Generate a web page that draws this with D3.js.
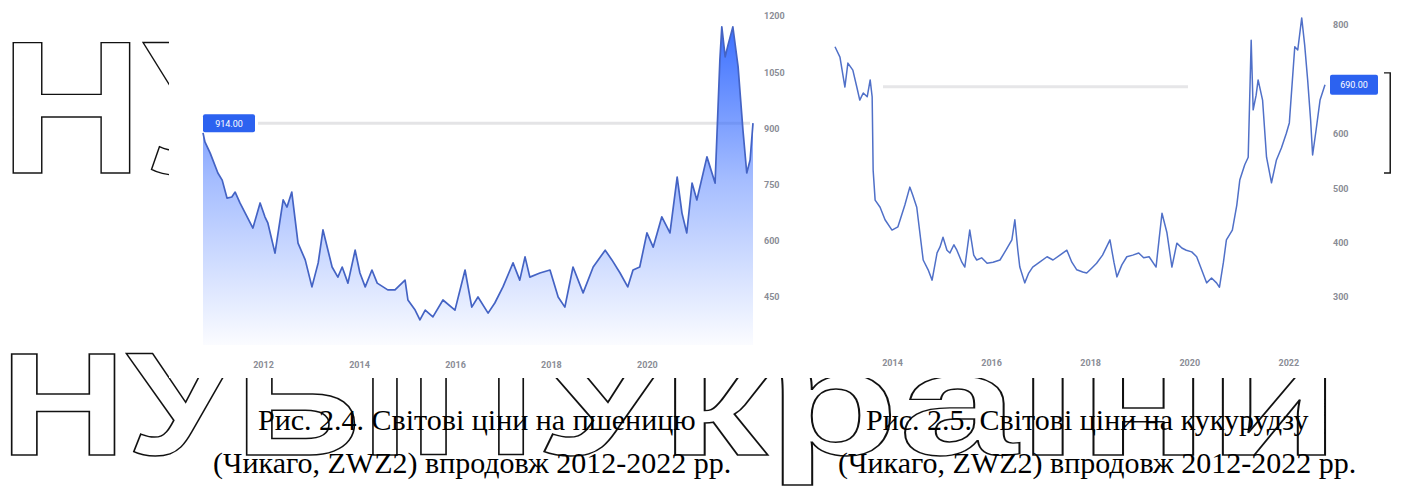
<!DOCTYPE html>
<html><head><meta charset="utf-8">
<script src="https://cdn.jsdelivr.net/npm/d3@7"></script>
<style>html,body{margin:0;padding:0;background:#fff;}svg{display:block;}</style>
</head><body>
<svg id="c" width="1405" height="491"></svg>
<script>
// ---- data ----
const wheatYears = [2010.75,2010.79,2010.90,2011.06,2011.15,2011.25,2011.35,2011.42,2011.52,2011.63,2011.79,2011.94,2012.04,2012.10,2012.25,2012.42,2012.50,2012.60,2012.73,2012.88,2013.02,2013.15,2013.25,2013.44,2013.56,2013.65,2013.77,2013.92,2014.02,2014.13,2014.27,2014.38,2014.60,2014.75,2014.96,2015.02,2015.17,2015.27,2015.38,2015.54,2015.75,2016.00,2016.21,2016.35,2016.48,2016.69,2016.83,2017.00,2017.21,2017.35,2017.46,2017.56,2017.77,2017.98,2018.15,2018.29,2018.46,2018.67,2018.88,2019.13,2019.27,2019.44,2019.60,2019.71,2019.85,2020.00,2020.13,2020.31,2020.48,2020.63,2020.73,2020.83,2020.94,2021.04,2021.25,2021.42,2021.52,2021.56,2021.63,2021.69,2021.79,2021.90,2022.00,2022.08,2022.15,2022.21];
const wheatPrices = [888,864,834,781,762,714,717,730,701,674,634,701,664,648,567,709,690,730,594,549,477,541,629,530,503,530,487,575,514,477,522,487,469,469,495,442,415,389,415,397,442,415,522,423,450,407,434,477,541,495,557,503,514,522,450,423,530,461,530,575,549,514,477,522,530,621,583,664,621,770,674,621,754,709,824,754,1083,1171,1091,1123,1171,1064,896,781,816,914];
const cornYears = [2012.85,2012.95,2013.05,2013.11,2013.21,2013.29,2013.35,2013.42,2013.50,2013.56,2013.60,2013.62,2013.66,2013.76,2013.86,2014.00,2014.12,2014.26,2014.36,2014.42,2014.50,2014.63,2014.73,2014.81,2014.91,2014.97,2015.03,2015.11,2015.17,2015.25,2015.31,2015.41,2015.47,2015.57,2015.65,2015.71,2015.81,2015.92,2016.04,2016.18,2016.30,2016.42,2016.48,2016.54,2016.58,2016.68,2016.76,2016.84,2016.98,2017.13,2017.25,2017.39,2017.53,2017.63,2017.73,2017.85,2017.93,2018.03,2018.13,2018.25,2018.40,2018.48,2018.54,2018.64,2018.74,2018.86,2018.98,2019.08,2019.19,2019.33,2019.39,2019.45,2019.55,2019.65,2019.75,2019.85,2019.94,2020.05,2020.15,2020.25,2020.35,2020.45,2020.55,2020.61,2020.69,2020.75,2020.87,2020.96,2021.02,2021.12,2021.19,2021.25,2021.29,2021.35,2021.39,2021.48,2021.56,2021.66,2021.76,2021.86,2021.96,2022.02,2022.13,2022.19,2022.27,2022.33,2022.39,2022.45,2022.49,2022.56,2022.64,2022.74];
const cornPrices = [760,741,686,730,717,686,662,675,668,699,668,533,478,465,442,423,429,469,502,487,465,368,350,331,381,392,410,386,381,396,386,364,355,423,377,368,372,362,364,368,386,405,442,386,355,326,344,355,364,374,368,377,386,364,350,346,344,353,362,377,405,364,337,359,374,377,381,372,374,355,405,454,418,355,399,390,386,383,374,350,326,335,326,318,364,405,423,469,515,543,557,772,644,671,699,662,557,510,552,574,601,620,760,754,813,763,699,625,561,607,662,690];
const wheatYTicks = [450,600,750,900,1050,1200];
const cornYTicks = [300,400,500,600,700,800];
const wheatXTicks = [2012,2014,2016,2018,2020];
const cornXTicks = [2014,2016,2018,2020,2022];
const watermarkWords = ["НУБіП","України"];
const captionsLeft = ["Рис. 2.4. Світові ціни на пшеницю","(Чикаго, ZWZ2) впродовж 2012-2022 рр."];
const captionsRight = ["Рис. 2.5. Світові ціни на кукурудзу","(Чикаго, ZWZ2) впродовж 2012-2022 рр."];

const svg = d3.select("#c");
svg.append("rect").attr("width",1405).attr("height",491).attr("fill","#fff");

// ---- watermark (outlined big letters) ----
const wm = svg.append("g").style("font-family","'Liberation Sans', Arial, sans-serif").style("font-weight","bold")
  .attr("fill","none").attr("stroke","#111").attr("stroke-width",1.4);
// top row
wm.append("text").attr("x",0).attr("y",173).style("font-size","190px")
  .attr("textLength",1404).attr("lengthAdjust","spacingAndGlyphs").text(watermarkWords.join(" "));
// bottom row
const row2 = wm.append("text").attr("y",455).style("font-size","147px");
row2.append("tspan").attr("x",0).attr("textLength",535).attr("lengthAdjust","spacingAndGlyphs").text(watermarkWords[0]);
row2.append("tspan").attr("x",535).attr("textLength",805).attr("lengthAdjust","spacingAndGlyphs").text(watermarkWords[1]);

// chart images (opaque)
svg.append("rect").attr("x",169).attr("y",0).attr("width",1215).attr("height",378).attr("fill","#fff");

const lab = {family:"Roboto, 'Liberation Sans', sans-serif", size:"9px", color:"#8a8d96"};
const data = (xs, ys) => xs.map((x,i)=>({x, y: ys[i]}));

// ---- left chart: wheat ----
const wd = data(wheatYears, wheatPrices);
const xL = d3.scaleLinear().domain(d3.extent(wheatYears)).range([203,753]);
const yL = d3.scaleLinear().domain([450,1200]).range([297,16]);
const defs = svg.append("defs");
const gr = defs.append("linearGradient").attr("id","gw").attr("gradientUnits","userSpaceOnUse")
  .attr("x1",0).attr("x2",0).attr("y1",16).attr("y2",345);
gr.append("stop").attr("offset","0").attr("stop-color","#2962ff").attr("stop-opacity",0.95);
gr.append("stop").attr("offset","0.5").attr("stop-color","#2962ff").attr("stop-opacity",0.42);
gr.append("stop").attr("offset","1").attr("stop-color","#2962ff").attr("stop-opacity",0.02);
const gL = svg.append("g");
const lastW = wheatPrices[wheatPrices.length-1];
gL.append("line").attr("x1",258).attr("x2",750).attr("y1",yL(lastW)).attr("y2",yL(lastW))
  .attr("stroke","#e4e4e6").attr("stroke-width",3);
gL.append("path").datum(wd).attr("fill","url(#gw)")
  .attr("d", d3.area().x(d=>xL(d.x)).y0(345).y1(d=>yL(d.y)));
gL.append("path").datum(wd).attr("fill","none").attr("stroke","#4463c4").attr("stroke-width",1.7)
  .attr("stroke-linejoin","round").attr("d", d3.line().x(d=>xL(d.x)).y(d=>yL(d.y)));
const axYL = gL.append("g").attr("transform","translate(764,0)")
  .call(d3.axisRight(yL).tickValues(wheatYTicks).tickSize(0).tickPadding(0).tickFormat(d3.format("d")));
const axXL = gL.append("g").attr("transform","translate(0,362)")
  .call(d3.axisBottom(xL).tickValues(wheatXTicks).tickSize(0).tickPadding(0).tickFormat(d3.format("d")));
gL.append("rect").attr("x",203).attr("y",yL(lastW)-9).attr("width",52).attr("height",18).attr("rx",2).attr("fill","#2c62f0");
gL.append("text").attr("x",229).attr("y",yL(lastW)+3.5).attr("text-anchor","middle").attr("fill","#fff")
  .style("font-family",lab.family).style("font-size","9px").text(d3.format(".2f")(lastW));

// ---- right chart: corn ----
const cd = data(cornYears, cornPrices);
const xR = d3.scaleLinear().domain(d3.extent(cornYears)).range([835,1325]);
const yR = d3.scaleLinear().domain([300,800]).range([297,25]);
const gR = svg.append("g");
const lastC = cornPrices[cornPrices.length-1];
gR.append("line").attr("x1",883).attr("x2",1188).attr("y1",yR(lastC)+2).attr("y2",yR(lastC)+2)
  .attr("stroke","#e6e6e8").attr("stroke-width",3);
gR.append("path").datum(cd).attr("fill","none").attr("stroke","#5070c8").attr("stroke-width",1.5)
  .attr("stroke-linejoin","round").attr("d", d3.line().x(d=>xR(d.x)).y(d=>yR(d.y)));
const axYR = gR.append("g").attr("transform","translate(1333,0)")
  .call(d3.axisRight(yR).tickValues(cornYTicks).tickSize(0).tickPadding(0).tickFormat(d3.format("d")));
const axXR = gR.append("g").attr("transform","translate(0,360)")
  .call(d3.axisBottom(xR).tickValues(cornXTicks).tickSize(0).tickPadding(0).tickFormat(d3.format("d")));
gR.append("rect").attr("x",1330).attr("y",yR(lastC)-10).attr("width",48).attr("height",20).attr("rx",2).attr("fill","#2c62f0");
gR.append("text").attr("x",1354).attr("y",yR(lastC)+3.5).attr("text-anchor","middle").attr("fill","#fff")
  .style("font-family",lab.family).style("font-size","9px").text(d3.format(".2f")(lastC));

[axYL,axXL,axYR,axXR].forEach(a=>{
  a.select(".domain").remove();
  a.selectAll("text").attr("fill",lab.color).style("font-family",lab.family).style("font-size",lab.size).style("font-weight","bold");
});

// ---- captions ----
const cap = svg.append("g").style("font-family","'Liberation Serif','Times New Roman',serif").style("font-size","30px").attr("fill","#000");
[[[258,213],captionsLeft],[[866,838],captionsRight]].forEach(([xs,lines])=>{
  lines.forEach((t,i)=>cap.append("text").attr("x",xs[i]).attr("y",430+i*43).text(t));
});
</script>
</body></html>
